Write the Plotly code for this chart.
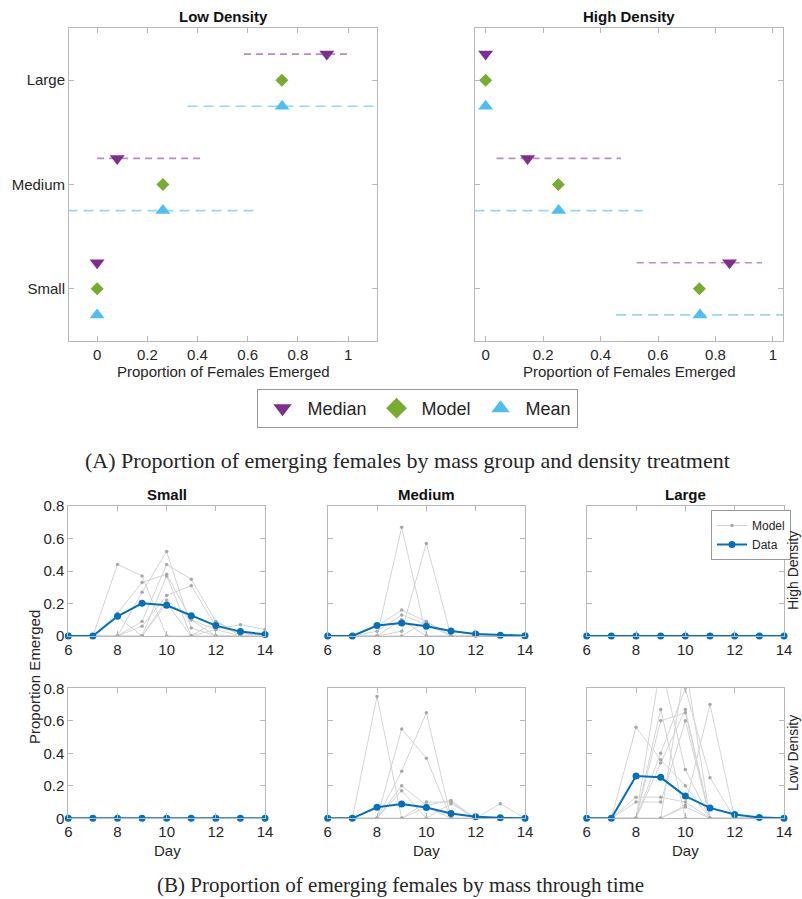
import plotly.graph_objects as go

# ---------------- DATA ----------------
categories = ["Small", "Medium", "Large"]

# Panel A: Low density
low_median = [0.0, 0.080, 0.915]
low_median_lo = [None, 0.000, 0.585]
low_median_hi = [None, 0.415, 1.000]
low_model = [0.0, 0.262, 0.736]
low_mean = [0.0, 0.262, 0.737]
low_mean_lo = [None, -0.118, 0.360]
low_mean_hi = [None, 0.642, 1.114]

# Panel A: High density
high_median = [0.849, 0.146, 0.0]
high_median_lo = [0.526, 0.038, None]
high_median_hi = [0.962, 0.471, None]
high_model = [0.744, 0.253, 0.0]
high_mean = [0.746, 0.254, 0.0]
high_mean_lo = [0.454, -0.039, None]
high_mean_hi = [1.038, 0.547, None]

# Panel B
days = [6, 7, 8, 9, 10, 11, 12, 13, 14]
day_ticks = [6, 8, 10, 12, 14]
prop_ticks = [0, 0.2, 0.4, 0.6, 0.8]
prop_ticktext = ["0", "0.2", "0.4", "0.6", "0.8"]
frac_ticks = [0, 0.2, 0.4, 0.6, 0.8, 1]
frac_ticktext = ["0", "0.2", "0.4", "0.6", "0.8", "1"]

small_high_runs = [
    [0, 0, 0.44, 0.37, 0, 0, 0, 0, 0],
    [0, 0, 0.14, 0.33, 0.38, 0.10, 0, 0, 0],
    [0, 0, 0, 0.27, 0.52, 0.05, 0, 0, 0],
    [0, 0, 0, 0.09, 0.44, 0.35, 0.09, 0, 0],
    [0, 0, 0, 0.06, 0.25, 0.31, 0.06, 0.02, 0],
    [0, 0, 0, 0, 0.22, 0.10, 0.04, 0.07, 0.04],
    [0, 0, 0, 0, 0.37, 0, 0.04, 0, 0.02],
    [0, 0, 0.12, 0, 0.20, 0, 0.09, 0.02, 0],
]
small_high_data = [0, 0, 0.121, 0.201, 0.189, 0.125, 0.064, 0.027, 0.010]

medium_high_runs = [
    [0, 0, 0, 0.67, 0, 0, 0, 0, 0],
    [0, 0, 0, 0.03, 0.57, 0, 0, 0, 0],
    [0, 0, 0.06, 0.16, 0.09, 0, 0, 0, 0],
    [0, 0, 0.03, 0.13, 0.07, 0, 0, 0, 0],
    [0, 0, 0, 0.10, 0, 0, 0, 0, 0],
    [0, 0, 0, 0, 0.09, 0, 0, 0, 0],
]
medium_high_data = [0, 0, 0.064, 0.080, 0.060, 0.031, 0.012, 0.005, 0.002]

large_high_runs = [[0, 0, 0, 0, 0, 0, 0, 0, 0]]
large_high_data = [0, 0, 0, 0, 0, 0, 0, 0, 0]

small_low_runs = [[0, 0, 0, 0, 0, 0, 0, 0, 0]]
small_low_data = [0, 0, 0, 0, 0, 0, 0, 0, 0]

medium_low_runs = [
    [0, 0, 0.75, 0, 0, 0, 0, 0, 0],
    [0, 0, 0, 0.55, 0.37, 0, 0, 0, 0],
    [0, 0, 0, 0.29, 0.65, 0, 0, 0, 0],
    [0, 0, 0, 0.20, 0.08, 0.11, 0, 0, 0],
    [0, 0, 0, 0.17, 0, 0.09, 0, 0.09, 0],
    [0, 0, 0, 0, 0.10, 0.10, 0, 0, 0],
    [0, 0, 0, 0, 0.07, 0, 0, 0, 0],
]
medium_low_data = [0, 0, 0.068, 0.088, 0.066, 0.029, 0.010, 0.003, 0.001]

large_low_runs = [
    [0, 0, 0.56, 0.36, 0.20, 0, 0, 0, 0],
    [0, 0, 0, 0.95, 0.30, 0, 0, 0, 0],
    [0, 0, 0, 0.67, 0, 0, 0, 0, 0],
    [0, 0, 0, 0.60, 0.65, 0, 0, 0, 0],
    [0, 0, 0, 0.40, 0.80, 0.25, 0, 0, 0],
    [0, 0, 0, 0.34, 0.67, 0, 0, 0, 0],
    [0, 0, 0.13, 0.13, 0.10, 0, 0, 0, 0],
    [0, 0, 0.10, 0.10, 0.60, 0, 0, 0, 0],
    [0, 0, 0, 0, 0.08, 0.70, 0, 0, 0],
    [0, 0, 0, 0, 0.07, 0, 0, 0, 0],
    [0, 0, 0, 0, 0.95, 0, 0, 0, 0],
]
large_low_data = [0, 0, 0.260, 0.252, 0.137, 0.064, 0.023, 0.005, 0.001]

# ---------------- STYLE ----------------
W, H = 802, 899
FONT = "Liberation Sans, Arial, Helvetica, sans-serif"
SERIF = "Liberation Serif, Times New Roman, serif"
C_MED = "#7E2F8E"
C_MOD = "#77AC30"
C_MEAN = "#4DBEEE"
C_MED_L = "rgba(126,47,142,0.55)"
C_MEAN_L = "rgba(77,190,238,0.6)"
C_DATA = "#0072BD"
C_GRAY = "#d4d4d4"
C_GRAYM = "#a8a8a8"
AX = "#b8b8b8"
TXT = "#262626"


def fx(p):
    return p / W


def fy(p):
    return 1 - p / H


fig = go.Figure()

OFF = {"median": 0.25, "model": 0.0, "mean": -0.25}
SYM = {"median": ("triangle-down", 13, C_MED, "Median"),
       "model": ("diamond", 10, C_MOD, "Model"),
       "mean": ("triangle-up", 13, C_MEAN, "Mean")}


def add_panel_a(xa, ya, med, mlo, mhi, mod, mean, alo, ahi):
    pos = [i + 1 for i in range(len(categories))]
    for lo, hi, key, col, dash in [(mlo, mhi, "median", C_MED_L, "7px,5px"),
                                   (alo, ahi, "mean", C_MEAN_L, "10px,6px")]:
        xs, ys = [], []
        for i, p in enumerate(pos):
            if lo[i] is None:
                continue
            xs += [lo[i], hi[i], None]
            ys += [p + OFF[key], p + OFF[key], None]
        fig.add_trace(go.Scatter(x=xs, y=ys, mode="lines", xaxis=xa, yaxis=ya,
                                 line=dict(color=col, width=1.6, dash=dash),
                                 showlegend=False, hoverinfo="skip"))
    for key, vals in [("median", med), ("model", mod), ("mean", mean)]:
        sym, size, col, name = SYM[key]
        fig.add_trace(go.Scatter(x=vals, y=[p + OFF[key] for p in pos], mode="markers",
                                 xaxis=xa, yaxis=ya, name=name, showlegend=False,
                                 marker=dict(symbol=sym, size=size, color=col)))


add_panel_a("x", "y", low_median, low_median_lo, low_median_hi, low_model,
            low_mean, low_mean_lo, low_mean_hi)
add_panel_a("x2", "y2", high_median, high_median_lo, high_median_hi, high_model,
            high_mean, high_mean_lo, high_mean_hi)

# legend entries (large symbols like the original legend)
for key in ["median", "model", "mean"]:
    sym, size, col, name = SYM[key]
    fig.add_trace(go.Scatter(x=[None], y=[None], mode="markers", xaxis="x", yaxis="y",
                             name=name, showlegend=True, legend="legend",
                             marker=dict(symbol=sym, size=20, color=col)))


def add_panel_b(xa, ya, runs, data, show):
    xs, ys = [], []
    for r in runs:
        xs += days + [None]
        ys += r + [None]
    fig.add_trace(go.Scatter(x=xs, y=ys, mode="lines+markers", xaxis=xa, yaxis=ya,
                             name="Model", showlegend=show, legend="legend2",
                             line=dict(color=C_GRAY, width=1),
                             marker=dict(size=3.5, color=C_GRAYM)))
    fig.add_trace(go.Scatter(x=days, y=data, mode="lines+markers", xaxis=xa, yaxis=ya,
                             name="Data", showlegend=show, legend="legend2", cliponaxis=False,
                             line=dict(color=C_DATA, width=2),
                             marker=dict(size=7, color=C_DATA)))


add_panel_b("x3", "y3", small_high_runs, small_high_data, False)
add_panel_b("x4", "y4", medium_high_runs, medium_high_data, False)
add_panel_b("x5", "y5", large_high_runs, large_high_data, True)
add_panel_b("x6", "y6", small_low_runs, small_low_data, False)
add_panel_b("x7", "y7", medium_low_runs, medium_low_data, False)
add_panel_b("x8", "y8", large_low_runs, large_low_data, False)

# ---------------- AXES ----------------
base = dict(showline=True, linecolor=AX, linewidth=1, mirror="allticks", ticks="inside",
            ticklen=5, tickcolor=AX, showgrid=False, zeroline=False, automargin=False,
            tickfont=dict(family=FONT, size=15, color=TXT), fixedrange=True)

top_y = [fy(341), fy(28)]
layout_axes = {}
layout_axes["xaxis"] = dict(base, domain=[fx(69), fx(377)], range=[-0.112, 1.115], anchor="y",
                            tickvals=frac_ticks, ticktext=frac_ticktext)
layout_axes["yaxis"] = dict(base, domain=top_y, range=[0.5, 3.5], anchor="x",
                            tickvals=[1, 2, 3], ticktext=categories)
layout_axes["xaxis2"] = dict(base, domain=[fx(475), fx(783)], range=[-0.037, 1.035], anchor="y2",
                             tickvals=frac_ticks, ticktext=frac_ticktext)
layout_axes["yaxis2"] = dict(base, domain=top_y, range=[0.5, 3.5], anchor="x2",
                             tickvals=[1, 2, 3], showticklabels=False)

cols = [[68.3, 265], [327.7, 525], [586.7, 784]]
rows = [[506, 636], [688.3, 818.3]]
n = 3
for r, (yt, yb) in enumerate(rows):
    for c, (xl, xr) in enumerate(cols):
        xk = "xaxis%d" % n
        yk = "yaxis%d" % n
        layout_axes[xk] = dict(base, domain=[fx(xl), fx(xr)], range=[6, 14], anchor="y%d" % n,
                               tickvals=day_ticks)
        layout_axes[yk] = dict(base, domain=[fy(yb), fy(yt)], range=[0, 0.8], anchor="x%d" % n,
                               tickvals=prop_ticks, ticktext=prop_ticktext,
                               showticklabels=(c == 0))
        n += 1

ann = []


def text(x, y, s, size=15, bold=False, angle=0, family=FONT, xanchor="center"):
    ann.append(dict(x=fx(x), y=fy(y), xref="paper", yref="paper", text=("<b>%s</b>" % s) if bold else s,
                    showarrow=False, textangle=angle, xanchor=xanchor, yanchor="middle",
                    font=dict(family=family, size=size, color="#111111" if bold else TXT)))


text(223, 16, "Low Density", 15, True)
text(629, 16, "High Density", 15, True)
text(223, 372, "Proportion of Females Emerged", 15)
text(629, 372, "Proportion of Females Emerged", 15)
text(407, 461, "(A) Proportion of emerging females by mass group and density treatment", 22, family=SERIF)
text(167, 494, "Small", 15, True)
text(426, 494, "Medium", 15, True)
text(685, 494, "Large", 15, True)
text(793, 571, "High Density", 14, angle=-90)
text(793, 753, "Low Density", 14, angle=-90)
text(34, 677, "Proportion Emerged", 15, angle=-90)
for cx in [167, 426, 685]:
    text(cx, 850, "Day", 15)
text(400, 885, "(B) Proportion of emerging females by mass through time", 21, family=SERIF)

fig.update_layout(
    width=W, height=H, margin=dict(l=0, r=0, t=0, b=0, pad=0, autoexpand=False),
    paper_bgcolor="white", plot_bgcolor="white",
    annotations=ann,
    legend=dict(orientation="h", x=fx(417), xanchor="center", y=fy(389), yanchor="top",
                bordercolor="#999999", borderwidth=1, bgcolor="white",
                font=dict(family=FONT, size=18, color=TXT), itemwidth=40),
    legend2=dict(x=fx(711), xanchor="left", y=fy(510), yanchor="top",
                 bordercolor="#999999", borderwidth=1, bgcolor="white",
                 font=dict(family=FONT, size=12, color=TXT), itemwidth=30,
                 tracegroupgap=0),
    **layout_axes,
)

fig.write_html("out.html")
